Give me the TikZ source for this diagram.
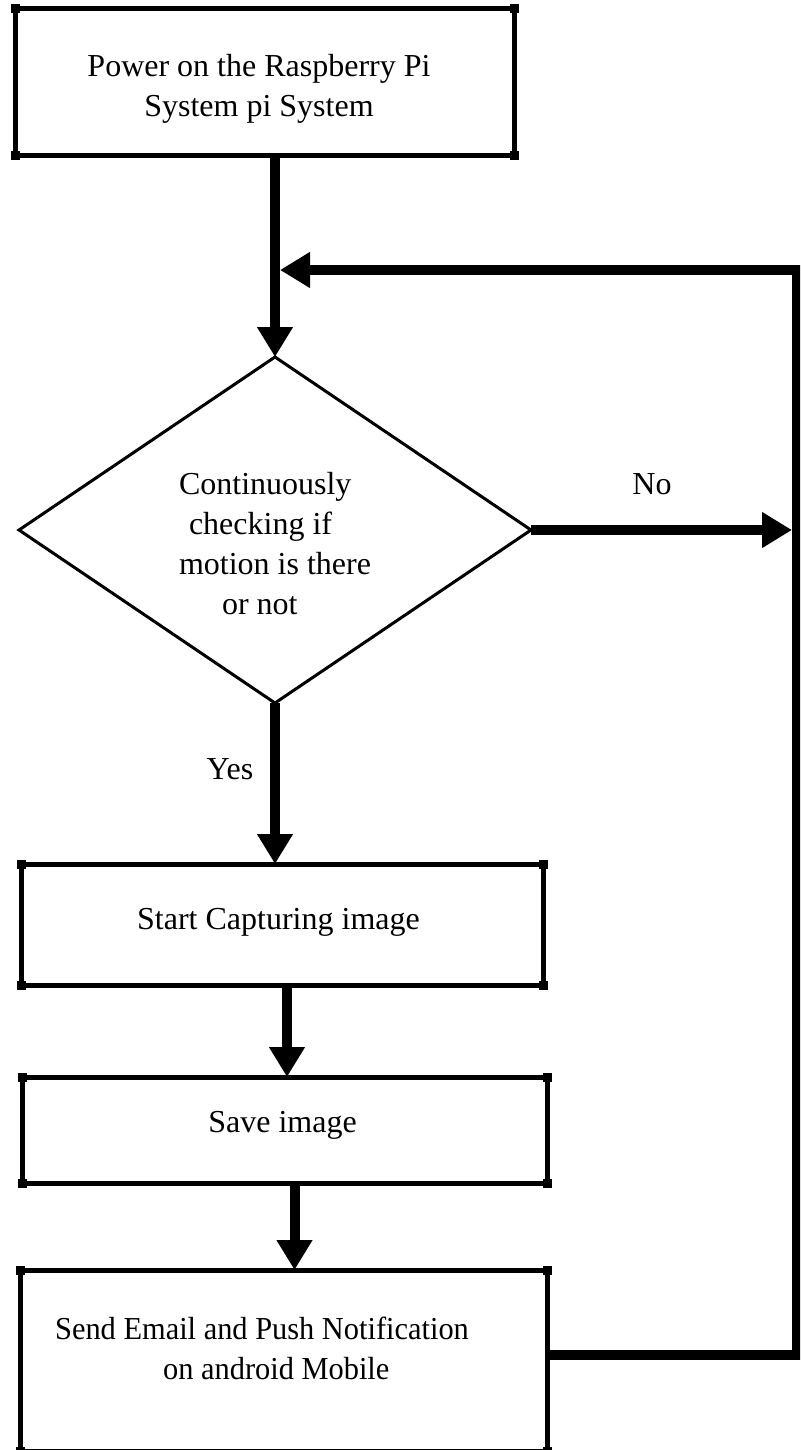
\documentclass[tikz,border=0pt]{standalone}
\usepackage{fontspec}
\setmainfont{Liberation Serif}
\usepackage{graphicx}
\usetikzlibrary{arrows.meta,shapes.geometric}
\begin{document}
\begin{tikzpicture}[x=0.5pt,y=-0.5pt,
  txt/.style={font=\fontsize{16pt}{20pt}\selectfont},
  box/.style={txt, draw, line width=2.5pt, rectangle, inner sep=0pt, outer sep=0pt},
  dec/.style={txt, draw, line width=1.5pt, diamond, aspect=1.48, inner sep=0pt, outer sep=0pt},
  conn/.style={line width=5pt, line join=miter, -{Triangle[length=15pt,width=17pt]}},
  lbl/.style={txt, inner sep=0pt}]
\useasboundingbox (0,0) rectangle (800,1450);
\clip (0,0) rectangle (800,1450);

\node[box, minimum width=249.5pt, minimum height=73pt, align=center] (b1) at (264.5,82)
  {\rule{0pt}{20.5pt}\strut Power on the Raspberry Pi\hspace*{5.5pt}\\ \strut System pi System\hspace*{5.5pt}};

\node[dec, minimum width=256pt, minimum height=173pt, align=left] (d) at (275,530)
  {\rule{0pt}{30pt}\strut Continuously\\ \hspace*{5pt}\strut checking if\\ \strut motion is there\hspace*{4pt}\\ \hspace*{21.5pt}\strut or not};

\node[box, minimum width=261pt, minimum height=60.5pt] (b2) at (282,924.5)
  {\strut Start Capturing image\rule[-9.5pt]{0pt}{0pt}\hspace*{3.5pt}};

\node[box, minimum width=262.5pt, minimum height=53pt] (b3) at (284.5,1130)
  {\strut Save image\rule[-12pt]{0pt}{0pt}\hspace*{2pt}};

\node[box, minimum width=263.5pt, minimum height=90.5pt, align=left] (b4) at (283.5,1360.5)
  {\strut\scalebox{0.95}[1]{Send Email and Push Notification}\hspace*{21.5pt}\\ \hspace*{54pt}\strut\scalebox{0.95}[1]{on android Mobile}\rule[-15.5pt]{0pt}{0pt}};

\foreach \n in {b1,b2,b3,b4}{
  \foreach \c in {north west,north east,south west,south east}{
    \fill (\n.\c) ++(-4.5,-4.5) rectangle ++(9,9);
  }
}

\node[lbl] (no) at (652,484) {No};
\node[lbl] (yes) at (230,769.5) {Yes};

\coordinate (rc) at (797,270);
\coordinate (redge) at (792,270);

\draw[conn] (d.north |- b1.south) -- (d.north);
\draw[conn] (d.south) -- (d.south |- b2.north);
\draw[conn] ([xshift=2.5pt]b2.south) -- ([xshift=2.5pt]b2.south |- b3.north);
\draw[conn] ([xshift=5pt]b3.south) -- ([xshift=5pt]b3.south |- b4.north);
\draw[conn] (d.east) -- (d.east -| redge);
\draw[conn] ([yshift=2.75pt]b4.east) -| (rc) -- ([xshift=2.5pt]d.north |- rc);
\end{tikzpicture}
\end{document}
